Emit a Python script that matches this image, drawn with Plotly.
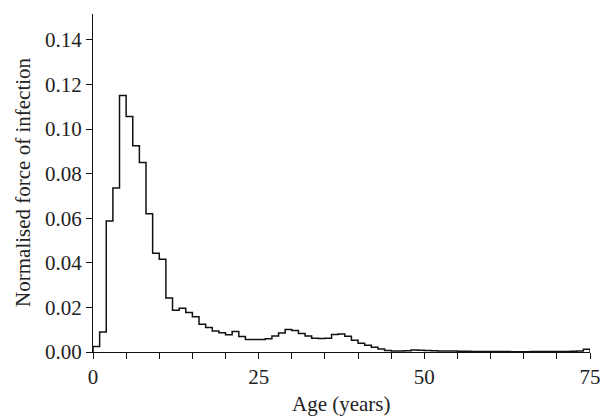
import plotly.graph_objects as go

# Age bins (years), one-year width
bin_edges = list(range(0, 76))
force = [
    0.0025, 0.0090, 0.0588, 0.0736, 0.1150, 0.1056, 0.0925, 0.0850, 0.0620, 0.0443,
    0.0416, 0.0242, 0.0187, 0.0196, 0.0177, 0.0158, 0.0125, 0.0110, 0.0094, 0.0086,
    0.0077, 0.0092, 0.0070, 0.0056, 0.0056, 0.0056, 0.0059, 0.0072, 0.0085, 0.0101,
    0.0096, 0.0083, 0.0072, 0.0062, 0.0060, 0.0062, 0.0079, 0.0081, 0.0071, 0.0053,
    0.0039, 0.0030, 0.0021, 0.0013, 0.0007, 0.0004, 0.0005, 0.0006, 0.0009, 0.0008,
    0.0007, 0.0006, 0.0005, 0.0005, 0.0004, 0.0003, 0.0003, 0.0002, 0.0002, 0.0002,
    0.0002, 0.0002, 0.0002, 0.0001, 0.0001, 0.0001, 0.0002, 0.0002, 0.0002, 0.0002,
    0.0002, 0.0002, 0.0003, 0.0004, 0.0012,
]
x_ticks = [0, 25, 50, 75]
y_ticks = [0.00, 0.02, 0.04, 0.06, 0.08, 0.10, 0.12, 0.14]
x_title = "Age (years)"
y_title = "Normalised force of infection"

xs = [bin_edges[0]] + bin_edges + [bin_edges[-1]]
ys = [0] + force + [force[-1]] + [0]

fig = go.Figure()
fig.add_trace(go.Scatter(
    x=xs, y=ys, mode="lines", line=dict(shape="hv", color="#111111", width=1.5),
    showlegend=False, hoverinfo="skip", cliponaxis=False,
))

font = dict(family="Liberation Serif, Times New Roman, serif", size=21, color="#222222")
fig.update_layout(
    width=602, height=418,
    margin=dict(l=93, r=12, t=14, b=66, autoexpand=False),
    paper_bgcolor="white", plot_bgcolor="white",
    font=font,
)
fig.update_xaxes(
    range=[0, 75], tickvals=x_ticks, ticktext=[str(v) for v in x_ticks],
    showline=True, linecolor="#111111", linewidth=1.2,
    ticks="outside", ticklen=6, tickcolor="#111111", tickwidth=1.2,
    minor=dict(dtick=5, ticks="outside", ticklen=6, tickcolor="#111111", tickwidth=1.2, showgrid=False),
    showgrid=False, zeroline=False, automargin=False,
)
fig.update_yaxes(
    range=[0, 0.1516], tickvals=y_ticks, ticktext=[f"{v:.2f}" for v in y_ticks],
    showline=True, linecolor="#111111", linewidth=1.2,
    ticks="outside", ticklen=6, tickcolor="#111111", tickwidth=1.2,
    showgrid=False, zeroline=False, automargin=False,
)
fig.add_annotation(text=x_title, xref="paper", yref="paper", x=0.5, y=-0.154,
                   yanchor="middle", xanchor="center", showarrow=False, font=font)
fig.add_annotation(text=y_title, xref="paper", yref="paper", x=-0.141, y=0.503,
                   yanchor="middle", xanchor="center", textangle=-90, showarrow=False, font=font)

fig.write_html(
    "out.html",
    config={"displayModeBar": False},
    post_script="document.body.style.margin='0';document.body.style.overflow='hidden';",
)
